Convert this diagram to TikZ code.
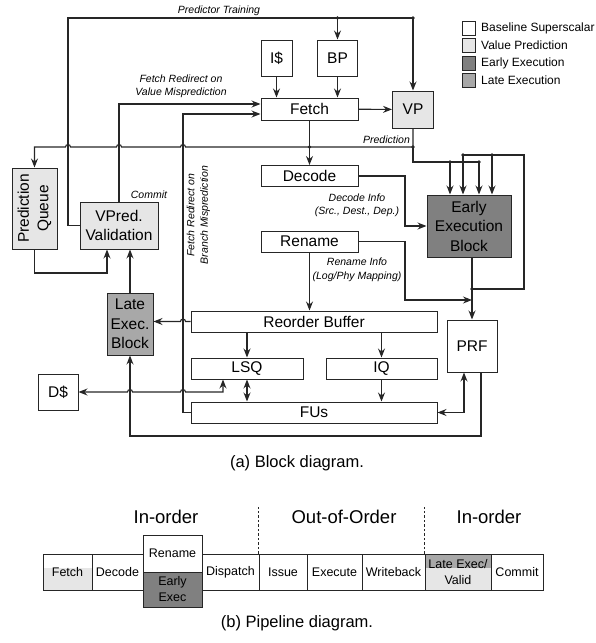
\documentclass[tikz,border=0pt]{standalone}
\usepackage{fontspec}
\setmainfont{Liberation Sans}
\usetikzlibrary{arrows.meta,positioning,calc}
\definecolor{ink}{HTML}{262626}
\definecolor{vpgray}{HTML}{E6E6E6}
\definecolor{eegray}{HTML}{808080}
\definecolor{legray}{HTML}{A8A8A8}
\tikzset{
  blk/.style={draw=ink,fill=white,line width=1pt,inner sep=0pt,align=center,
              font=\fontsize{15.5}{19.5}\selectfont},
  vpblk/.style={blk,fill=vpgray},
  eeblk/.style={blk,fill=eegray},
  leblk/.style={blk,fill=legray},
  lbl/.style={inner sep=0pt,align=center,
              font=\fontsize{10.5}{13.5}\selectfont\itshape},
  wire/.style={draw=ink,line width=1.1pt},
  arr/.style={wire,-{Stealth[length=9pt,width=7pt,inset=3pt]}},
  biarr/.style={wire,{Stealth[length=9pt,width=7pt,inset=3pt]}-{Stealth[length=9pt,width=7pt,inset=3pt]}},
  jdot/.style={circle,fill=ink,inner sep=0pt,minimum size=3.8pt},
  keybox/.style={draw=ink,line width=0.9pt,minimum width=13pt,minimum height=14pt,
                 inner sep=0pt},
  keytxt/.style={anchor=west,inner sep=0pt,font=\fontsize{12}{14}\selectfont},
  stage/.style={draw=ink,line width=0.9pt,inner sep=0pt,align=center,
                minimum height=36pt,font=\fontsize{12.5}{16}\selectfont},
  head/.style={inner sep=0pt,font=\fontsize{18.5}{22}\selectfont},
  capt/.style={inner sep=0pt,font=\fontsize{16.5}{20}\selectfont}
}

\begin{document}
\begin{tikzpicture}[x=1pt,y=-1pt]
    \path[use as bounding box] (0,0) rectangle (595,643);

    % (a) block diagram
    \node[blk,minimum width=31pt,minimum height=36pt] (icache) at (276.5,58) {I\$};
    \node[blk,minimum width=40pt,minimum height=36pt] (bp) at (337.5,58) {BP};
    \node[blk,minimum width=97pt,minimum height=22pt] (fetch) at (309.5,109) {Fetch};
    \node[vpblk,minimum width=41pt,minimum height=37pt] (vp) at (413,109.5) {VP};
    \node[blk,minimum width=97pt,minimum height=21pt] (decode) at (309.5,176) {Decode};
    \node[blk,minimum width=97pt,minimum height=21pt] (rename) at (309.5,241.5) {Rename};
    \node[eeblk,minimum width=84pt,minimum height=62pt] (eeb) at (469,226)
      {Early\\Execution\\Block};
    \node[blk,minimum width=246pt,minimum height=21pt] (rob) at (314,321.5) {Reorder Buffer};
    \node[blk,minimum width=112pt,minimum height=21pt] (lsq) at (247,368.5) {LSQ};
    \node[blk,minimum width=111pt,minimum height=21pt] (iq) at (381.5,368.5) {IQ};
    \node[blk,minimum width=246pt,minimum height=21pt] (fus) at (314,412.5) {FUs};
    \node[blk,minimum width=50pt,minimum height=52pt] (prf) at (472,346) {PRF};
    \node[leblk,minimum width=46pt,minimum height=62pt] (leb) at (130,324)
      {Late\\Exec.\\Block};
    \node[vpblk,minimum width=78pt,minimum height=47pt] (vpv) at (119,225.5)
      {VPred.\\Validation};
    \node[vpblk,rotate=90,minimum width=81pt,minimum height=45pt] (pq) at (34.5,208.5)
      {Prediction\\Queue};
    \node[blk,minimum width=40pt,minimum height=36pt] (dcache) at (58,392) {D\$};

    % junctions
    \coordinate (trL) at (68,18);
    \coordinate (trR) at (413,18);
    \coordinate (trB) at (bp.north |- trR);
    \coordinate (prJ) at (413,147);
    \coordinate (prF) at (fetch.south |- prJ);
    \coordinate (prK) at (413,162);
    \coordinate (e1) at (450,162);
    \coordinate (e3) at (479,162);
    \coordinate (e2) at (463,155);
    \coordinate (e4) at (492,155);
    \coordinate (fbJ) at (472,289);
    \coordinate (fbR) at (524,289);
    \coordinate (fbT) at (524,155);
    \coordinate (dnK) at (405,200);
    \coordinate (rnK) at (405,270);
    \coordinate (rnE) at (472,300);
    \coordinate (cmK) at (119,104);
    \coordinate (brK) at (183,114);
    \coordinate (brB) at (183,412.5);
    \coordinate (pqV) at (107,273);
    \coordinate (dsK) at (223,392);
    \coordinate (pbR) at (481,436);
    \coordinate (pbL) at (130,436);
    \coordinate (pfK) at (464,412.5);

    % front end
    \draw[arr] (vpv.west) -| (trL) -- (trR) -- (vp.north);
    \draw[arr] (trB) -- (bp.north);
    \draw[arr] (icache) -- (icache |- fetch.north);
    \draw[arr] (bp) -- (bp |- fetch.north);
    \draw[arr] (fetch) -- (vp);
    \draw[arr] (fetch) -- (decode);
    \draw[arr] (vp.south) -- (prJ) -- (185.5,147) arc[start angle=0,end angle=180,radius=2.5pt]
      -- (121.5,147) arc[start angle=0,end angle=180,radius=2.5pt]
      -- (70.5,147) arc[start angle=0,end angle=180,radius=2.5pt]
      -- (pq.east |- prJ) -- (pq.east);
    \draw[wire] (prJ) -- (prK) -- (e3);
    \draw[arr] (e1) -- (e1 |- eeb.north);
    \draw[arr] (e3) -- (e3 |- eeb.north);
    \draw[arr] (fbJ |- eeb.south) -- (prf.north);
    \draw[wire] (fbJ) -- (fbR) -- (fbT) -- (e2);
    \draw[arr] (e2) -- (e2 |- eeb.north);
    \draw[arr] (e4) -- (e4 |- eeb.north);
    \draw[arr] (decode.east) -| (dnK) |- (eeb.west);
    \draw[arr] (rename.east) -| (rnK) |- (rnE);
    \draw[arr] (rename) -- (rename |- rob.north);

    % back end
    \draw[arr] (rob.west) -- (185.5,321.5) arc[start angle=0,end angle=180,radius=2.5pt]
      -- (leb.east |- rob.west);
    \draw[arr] (lsq |- rob.south) -- (lsq);
    \draw[arr] (iq |- rob.south) -- (iq);
    \draw[arr] (iq) -- (iq |- fus.north);
    \draw[biarr] (lsq) -- (lsq |- fus.north);
    \draw[arr] (leb) -- (leb |- vpv.south);
    \draw[arr] (pq.west) |- (pqV) -- (pqV |- vpv.south);
    \draw[arr] (vpv.north) -- (cmK) -- (cmK -| fetch.west);
    \draw[arr] (fus.west) -- (brB) -- (brK) -- (brK -| fetch.west);
    \draw[biarr] (dcache.east) -- (127.5,392) arc[start angle=180,end angle=0,radius=2.5pt]
      -- (180.5,392) arc[start angle=180,end angle=0,radius=2.5pt]
      -- (dsK) -- (dsK |- lsq.south);
    \draw[arr] (pbR |- prf.south) -- (pbR) -- (pbL) -- (leb.south);
    \draw[biarr] (fus.east) -- (pfK) -- (pfK |- prf.south);

    \node[jdot] (j1) at (trB) {};
    \node[jdot] (j2) at (trR) {};
    \node[jdot] (j3) at (prJ) {};
    \node[jdot] (j4) at (prF) {};
    \node[jdot] (j5) at (e1) {};
    \node[jdot] (j6) at (e3) {};
    \node[jdot] (j7) at (e2) {};
    \node[jdot] (j8) at (e4) {};
    \node[jdot] (j9) at (fbJ) {};

    \node[lbl] (ptrain) at (219,11) {Predictor Training};
    \node[lbl] (fredv) at (181,86.5) {Fetch Redirect on\\Value Misprediction};
    \node[lbl] (cmlbl) at (149,195) {Commit};
    \node[lbl] (prlbl) at (386.5,140) {Prediction};
    \node[lbl,rotate=90] (fredb) at (198.5,215) {Fetch Redirect on\\Branch Misprediction};
    \node[lbl] (dinfo) at (357,205.5) {Decode Info\\(Src., Dest., Dep.)};
    \node[lbl] (rinfo) at (357,270) {Rename Info\\(Log/Phy Mapping)};

    % legend
    \node[keybox,fill=white] (key1) at (468.5,28) {};
    \node[keybox,fill=vpgray] (key2) at (468.5,45.5) {};
    \node[keybox,fill=eegray] (key3) at (468.5,63) {};
    \node[keybox,fill=legray] (key4) at (468.5,80) {};
    \node[keytxt] (keyt1) at (481,28) {Baseline Superscalar};
    \node[keytxt] (keyt2) at (481,45.5) {Value Prediction};
    \node[keytxt] (keyt3) at (481,63) {Early Execution};
    \node[keytxt] (keyt4) at (481,80) {Late Execution};

    \node[capt] (capa) at (297,463) {(a) Block diagram.};

    % (b) pipeline diagram
    \fill[vpgray] (43,568) rectangle (92,590);
    \fill[legray] (425,554) rectangle (491,568);
    \fill[vpgray] (425,568) rectangle (491,590);
    \fill[eegray] (143,572) rectangle (202,607);
    \node[stage,minimum width=49pt] (sfetch) at (67.5,572) {Fetch};
    \node[stage,minimum width=51pt] (sdecode) at (117.5,572) {Decode};
    \node[stage,minimum width=59pt,minimum height=37pt] (srename) at (172.5,553.5) {Rename};
    \node[stage,minimum width=59pt,minimum height=35pt] (searly) at (172.5,589.5) {Early\\Exec};
    \node[stage,minimum width=57pt] (sdisp) at (230.5,572) {Dispatch};
    \node[stage,minimum width=48pt] (sissue) at (283,572) {Issue};
    \node[stage,minimum width=55pt] (sexec) at (334.5,572) {Execute};
    \node[stage,minimum width=63pt] (swb) at (393.5,572) {Writeback};
    \node[stage,minimum width=66pt] (slate) at (458,572) {Late Exec/\\Valid};
    \node[stage,minimum width=52pt] (scommit) at (517,572) {Commit};
    \draw[ink,line width=0.9pt,dash pattern=on 2.5pt off 2pt]
      (sissue.north west) -- ++(0,-47);
    \draw[ink,line width=0.9pt,dash pattern=on 2.5pt off 2pt]
      (slate.north west) -- ++(0,-47);

    \node[head] (ord1) at (166,517) {In-order};
    \node[head] (ord2) at (344,517) {Out-of-Order};
    \node[head] (ord3) at (489,517) {In-order};
    \node[capt] (capb) at (297,623) {(b) Pipeline diagram.};
\end{tikzpicture}
\end{document}
